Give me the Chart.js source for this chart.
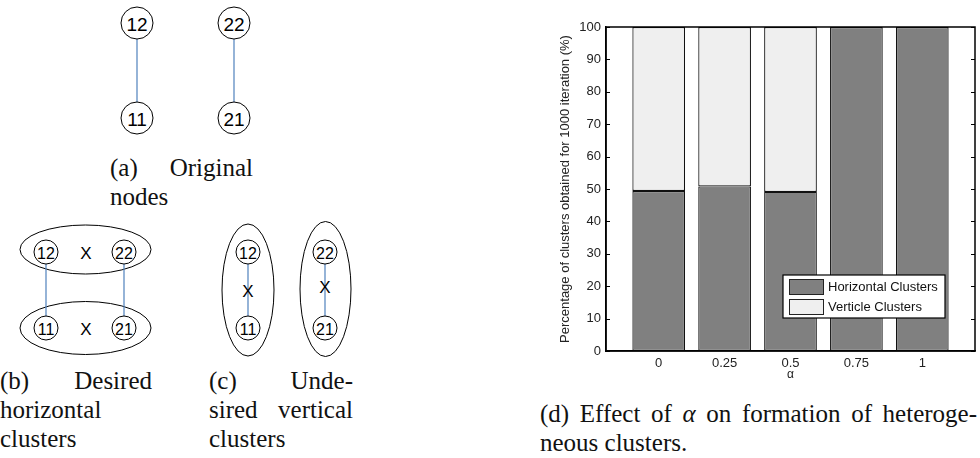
<!DOCTYPE html>
<html>
<head>
<meta charset="utf-8">
<script src="https://cdn.jsdelivr.net/npm/chart.js@4.4.0/dist/chart.umd.min.js"></script>
<style>
body { margin: 0; background: #fff; width: 980px; height: 458px; overflow: hidden; position: relative; }
#wrap { position: absolute; left: 540px; top: 0; width: 440px; height: 390px; }
#diag { position: absolute; left: 0; top: 0; }
.cap { position: absolute; font-family: "Liberation Serif", "Times New Roman", serif; font-size: 25px; line-height: 29px; color: #111; }
.cap div { white-space: nowrap; }
.cap div.j { white-space: normal; text-align: justify; text-align-last: justify; }
</style>
</head>
<body>

<svg id="diag" width="540" height="458" font-family="Liberation Sans, Arial, sans-serif" fill="none" stroke="#000">
  <!-- (a) original nodes -->
  <g stroke="#4f81bd" stroke-width="1.2">
    <line x1="137" y1="39" x2="137" y2="102"/>
    <line x1="234" y1="39" x2="234" y2="102"/>
  </g>
  <g stroke-width="1">
    <circle cx="137" cy="23" r="16"/>
    <circle cx="234" cy="23" r="16"/>
    <circle cx="137" cy="118" r="16"/>
    <circle cx="234" cy="118" r="16"/>
  </g>
  <g fill="#000" stroke="none" font-size="19" text-anchor="middle" dominant-baseline="central">
    <text x="137" y="24">12</text>
    <text x="234" y="24">22</text>
    <text x="137" y="119">11</text>
    <text x="234" y="119">21</text>
  </g>

  <!-- (b) desired horizontal clusters -->
  <g stroke-width="1">
    <ellipse cx="85.5" cy="249.5" rx="65.5" ry="24.5"/>
    <ellipse cx="85.5" cy="328" rx="65.5" ry="26.5"/>
  </g>
  <g stroke="#4f81bd" stroke-width="1.2">
    <line x1="46" y1="264" x2="46" y2="316"/>
    <line x1="124" y1="264" x2="124" y2="316"/>
  </g>
  <g stroke-width="1">
    <circle cx="46" cy="252" r="12"/>
    <circle cx="124" cy="252" r="12"/>
    <circle cx="46" cy="328" r="12"/>
    <circle cx="124" cy="328" r="12"/>
  </g>
  <g fill="#000" stroke="none" font-size="16" text-anchor="middle" dominant-baseline="central">
    <text x="46" y="253">12</text>
    <text x="124" y="253">22</text>
    <text x="46" y="329">11</text>
    <text x="124" y="329">21</text>
    <text x="86" y="253" font-size="17">X</text>
    <text x="86" y="329" font-size="17">X</text>
  </g>

  <!-- (c) undesired vertical clusters -->
  <g stroke-width="1">
    <ellipse cx="248" cy="290" rx="26" ry="66"/>
    <ellipse cx="325.5" cy="289" rx="25.5" ry="67.5"/>
  </g>
  <g stroke="#4f81bd" stroke-width="1.2">
    <line x1="248" y1="264" x2="248" y2="316"/>
    <line x1="325" y1="264" x2="325" y2="316"/>
  </g>
  <g stroke-width="1">
    <circle cx="248" cy="252" r="12"/>
    <circle cx="248" cy="328" r="12"/>
    <circle cx="325" cy="252" r="12"/>
    <circle cx="325" cy="328" r="12"/>
  </g>
  <g fill="#000" stroke="none" font-size="16" text-anchor="middle" dominant-baseline="central">
    <text x="248" y="253">12</text>
    <text x="248" y="329">11</text>
    <text x="325" y="253">22</text>
    <text x="325" y="329">21</text>
    <text x="248" y="291" font-size="17">X</text>
    <text x="325" y="287" font-size="17">X</text>
  </g>
</svg>

<div class="cap" style="left:110px; top:153px; width:143px;">
  <div class="j">(a) Original</div>
  <div>nodes</div>
</div>
<div class="cap" style="left:0px; top:366px; width:152px;">
  <div class="j">(b) Desired</div>
  <div>horizontal</div>
  <div>clusters</div>
</div>
<div class="cap" style="left:209px; top:366px; width:144px;">
  <div class="j">(c) Unde-</div>
  <div class="j">sired vertical</div>
  <div>clusters</div>
</div>
<div class="cap" style="left:540px; top:399px; width:437px;">
  <div class="j">(d) Effect of <i>α</i> on formation of heteroge-</div>
  <div>neous clusters.</div>
</div>

<div id="wrap"><canvas id="bars" width="440" height="390"></canvas></div>

<script>
/*
 * Effect of alpha on the formation of heterogeneous clusters
 */

const alphaValues = [0, 0.25, 0.5, 0.75, 1]
const alphaLabels = ['0', '0.25', '0.5', '0.75', '1']
const horizontalPct = [49.4, 50.8, 49.1, 100, 100]
const verticalPct = [50.6, 49.2, 50.9, 0, 0]
const percentTicks = [0, 10, 20, 30, 40, 50, 60, 70, 80, 90, 100]

Chart.defaults.font.family = '"Liberation Sans", Arial, sans-serif'
Chart.defaults.color = '#222'

// y ticks pointing inward on both sides, drawn under the bars like matlab does
let insideTicks = {
    id: 'insideTicks',
    beforeDatasetsDraw(chart) {
        const {ctx, chartArea, scales} = chart
        ctx.save()
        ctx.strokeStyle = '#000'
        ctx.lineWidth = 1
        scales.y.ticks.forEach(t => {
            const py = Math.round(scales.y.getPixelForValue(t.value)) + 0.5
            ctx.beginPath()
            ctx.moveTo(chartArea.left, py)
            ctx.lineTo(chartArea.left + 4, py)
            ctx.moveTo(chartArea.right, py)
            ctx.lineTo(chartArea.right - 4, py)
            ctx.stroke()
        })
        ctx.restore()
    },
    afterDatasetsDraw(chart) {
        const {ctx, chartArea} = chart
        ctx.save()
        ctx.strokeStyle = '#000'
        ctx.lineWidth = 1.5
        ctx.strokeRect(chartArea.left, chartArea.top, chartArea.right - chartArea.left, chartArea.bottom - chartArea.top)
        ctx.restore()
    }
}

// boxed legend sitting inside the plot, lower right
let boxLegend = {
    id: 'boxLegend',
    afterDraw(chart) {
        const {ctx, chartArea} = chart
        const w = 162, h = 43
        const x = chartArea.right - 30 - w
        const y = chartArea.bottom - 33 - h
        ctx.save()
        ctx.fillStyle = '#fff'
        ctx.fillRect(x, y, w, h)
        ctx.strokeStyle = '#000'
        ctx.lineWidth = 1.2
        ctx.strokeRect(x, y, w, h)
        ctx.font = '13px "Liberation Sans", Arial, sans-serif'
        ctx.textBaseline = 'middle'
        chart.data.datasets.forEach((ds, i) => {
            const ry = y + 4 + i * 20
            ctx.fillStyle = ds.backgroundColor
            ctx.fillRect(x + 6.5, ry + 0.5, 34, 15)
            ctx.strokeStyle = '#222'
            ctx.lineWidth = 1
            ctx.strokeRect(x + 6.5, ry + 0.5, 34, 15)
            ctx.fillStyle = '#111'
            ctx.fillText(ds.label, x + 45, ry + 8.5)
        })
        ctx.restore()
    }
}

let barsConfig = {
    type: 'bar',
    data: {
        datasets: [
            {
                label: 'Horizontal Clusters',
                data: alphaValues.map((a, i) => ({x: a, y: horizontalPct[i]})),
                backgroundColor: '#808080',
                borderColor: '#111',
                borderWidth: 1.2,
                borderSkipped: false,
                categoryPercentage: 1,
                barPercentage: 0.8
            },
            {
                label: 'Verticle Clusters',
                data: alphaValues.map((a, i) => ({x: a, y: verticalPct[i]})),
                backgroundColor: '#efefef',
                borderColor: '#111',
                borderWidth: 1.2,
                borderSkipped: false,
                categoryPercentage: 1,
                barPercentage: 0.8
            }
        ]
    },
    options: {
        responsive: false,
        animation: false,
        devicePixelRatio: 1,
        layout: { padding: { top: 27, right: 5, left: 0, bottom: 0 } },
        plugins: { legend: { display: false }, tooltip: { enabled: false } },
        scales: {
            x: {
                type: 'linear',
                min: -0.2,
                max: 1.2,
                offset: false,
                stacked: true,
                afterBuildTicks: s => { s.ticks = alphaValues.map(v => ({value: v})) },
                afterFit: s => { s.height = 39 },
                grid: { display: false, drawTicks: false },
                border: { display: true, color: '#000', width: 1.5 },
                ticks: {
                    padding: 5,
                    font: { size: 13 },
                    callback: v => alphaLabels[alphaValues.indexOf(v)]
                },
                title: { display: true, text: 'α', font: { size: 12 }, padding: { top: 0, bottom: 8 } }
            },
            y: {
                min: 0,
                max: 100,
                stacked: true,
                afterBuildTicks: s => { s.ticks = percentTicks.map(v => ({value: v})) },
                afterFit: s => { s.width = 66 },
                grid: { display: false, drawTicks: false },
                border: { display: true, color: '#000', width: 1.5 },
                ticks: { padding: 5, font: { size: 13 } },
                title: {
                    display: true,
                    text: 'Percentage of clusters obtained for 1000 iteration (%)',
                    font: { size: 13 },
                    padding: { top: 18, bottom: 0 }
                }
            }
        }
    },
    plugins: [insideTicks, boxLegend]
}

var barsCanvas = document.getElementById('bars')

var barsChart = new Chart(barsCanvas, barsConfig)
</script>
</body>
</html>
